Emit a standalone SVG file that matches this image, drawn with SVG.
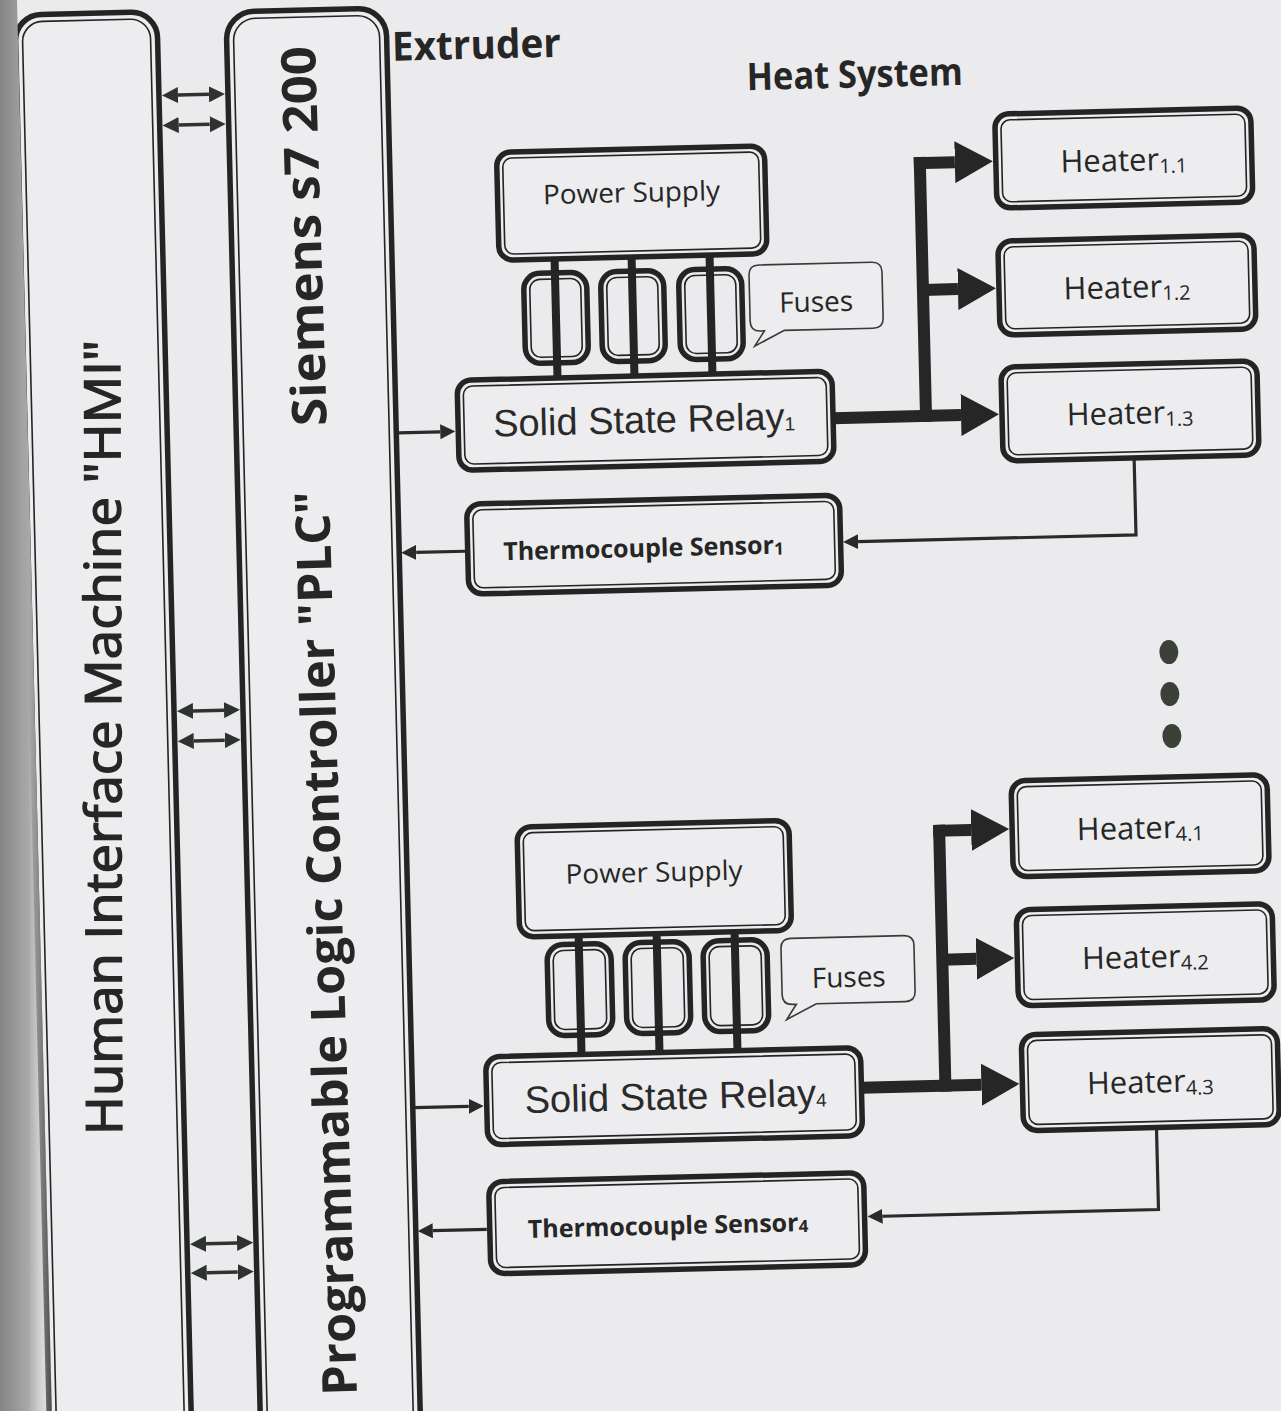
<svg xmlns="http://www.w3.org/2000/svg" width="1281" height="1411" viewBox="0 0 1281 1411">
<defs>
<style>
.ob{fill:#edecee;stroke:#242424;stroke-width:5.5}
.ib{fill:none;stroke:#242424;stroke-width:1.6}
.thin{stroke:#2a2a2a;stroke-width:3.2;fill:none}
.bold{stroke:#262626;stroke-width:12;fill:none}
.wire{stroke:#242424;stroke-width:8}
.dbl{stroke:#2e3330;stroke-width:3.5;fill:none}
.call{fill:#edecee;stroke:#3a3a3a;stroke-width:1.6}
.t{font-family:"Open Sans","Liberation Sans",sans-serif;fill:#262626}
.b{font-weight:700}
.a{font-family:"Liberation Sans",Arial,sans-serif;fill:#2a2a2a}
.dot{fill:#3b4039}
</style>
<marker id="mThin" markerUnits="userSpaceOnUse" markerWidth="15" markerHeight="15" refX="0" refY="7.5" orient="auto"><path d="M0,0 L15,7.5 L0,15 Z" fill="#2a2a2a"/></marker>
<marker id="mDbl" markerUnits="userSpaceOnUse" markerWidth="16" markerHeight="16" refX="0" refY="8" orient="auto-start-reverse"><path d="M0,0 L16,8 L0,16 Z" fill="#2e3330"/></marker>
<marker id="mBig" markerUnits="userSpaceOnUse" markerWidth="38" markerHeight="42" refX="0" refY="21" orient="auto"><path d="M0,0 L38,21 L0,42 Z" fill="#262626"/></marker>
<linearGradient id="shadow" x1="0" y1="0" x2="1" y2="0">
<stop offset="0" stop-color="#858585"/>
<stop offset="0.55" stop-color="#a9a9a9"/>
<stop offset="1" stop-color="#d9d9d9" stop-opacity="0.2"/>
</linearGradient>
</defs>
<rect width="1281" height="1411" fill="#ebeaec"/>
<g transform="rotate(-1.4 640 705)">
<g id="hmi">
<rect class="ob" x="32" y="0" width="142" height="1480" rx="26"/>
<rect class="ib" x="39" y="7" width="128" height="1466" rx="20"/>
</g>
<g id="plc">
<rect class="ob" x="243" y="2" width="160" height="1480" rx="28"/>
<rect class="ib" x="250" y="9" width="146" height="1466" rx="22"/>
</g>
<text id="extruder" class="t b" x="408" y="55" font-size="40" textLength="169" lengthAdjust="spacingAndGlyphs">Extruder</text>
<text id="heat-system" class="t b" x="762" y="93" font-size="38" textLength="216" lengthAdjust="spacingAndGlyphs">Heat System</text>

<g id="connectors">
<line class="dbl" x1="193" y1="84" x2="224" y2="84" marker-start="url(#mDbl)" marker-end="url(#mDbl)"/>
<line class="dbl" x1="193" y1="114" x2="224" y2="114" marker-start="url(#mDbl)" marker-end="url(#mDbl)"/>
<line class="dbl" x1="193" y1="700" x2="224" y2="700" marker-start="url(#mDbl)" marker-end="url(#mDbl)"/>
<line class="dbl" x1="193" y1="730" x2="224" y2="730" marker-start="url(#mDbl)" marker-end="url(#mDbl)"/>
<line class="dbl" x1="193" y1="1233" x2="224" y2="1233" marker-start="url(#mDbl)" marker-end="url(#mDbl)"/>
<line class="dbl" x1="193" y1="1262" x2="224" y2="1262" marker-start="url(#mDbl)" marker-end="url(#mDbl)"/>

<path class="thin" d="M405,427 H447" marker-end="url(#mThin)"/>
<path class="thin" d="M469,547 H420" marker-end="url(#mThin)"/>
<path class="thin" d="M1140,470 V547 H862" marker-end="url(#mThin)"/>
<path class="thin" d="M405,1102 H459" marker-end="url(#mThin)"/>
<path class="thin" d="M474,1225.5 H420" marker-end="url(#mThin)"/>
<path class="thin" d="M1146,1140 V1222 H870" marker-end="url(#mThin)"/>

<path class="bold" d="M933,164 V429"/>
<path class="bold" d="M840,423 H968" marker-end="url(#mBig)"/>
<path class="bold" d="M927,170 H968" marker-end="url(#mBig)"/>
<path class="bold" d="M933,297 H968" marker-end="url(#mBig)"/>

<path class="bold" d="M936,832 V1099"/>
<path class="bold" d="M852,1093 H972" marker-end="url(#mBig)"/>
<path class="bold" d="M930,838 H968" marker-end="url(#mBig)"/>
<path class="bold" d="M936,967 H970" marker-end="url(#mBig)"/>

<line class="wire" x1="565.5" y1="257" x2="565.5" y2="378"/>
<line class="wire" x1="642.5" y1="257" x2="642.5" y2="378"/>
<line class="wire" x1="720.5" y1="257" x2="720.5" y2="378"/>
<line class="wire" x1="573" y1="934" x2="573" y2="1055"/>
<line class="wire" x1="651" y1="934" x2="651" y2="1055"/>
<line class="wire" x1="729" y1="934" x2="729" y2="1055"/>
</g>

<g id="power-supply-1">
<rect class="ob" x="510" y="149" width="268" height="108" rx="14"/>
<rect class="ib" x="516" y="155" width="256" height="96" rx="9"/>
<text class="t" x="644" y="202" font-size="27" text-anchor="middle" textLength="177" lengthAdjust="spacingAndGlyphs">Power Supply</text>
</g>
<g id="fuses-1">
<rect class="ob" x="534" y="271" width="63" height="90" rx="16" fill-opacity="0"/>
<rect class="ib" x="540" y="277" width="51" height="78" rx="10"/>
<rect class="ob" x="611" y="271" width="63" height="90" rx="16" fill-opacity="0"/>
<rect class="ib" x="617" y="277" width="51" height="78" rx="10"/>
<rect class="ob" x="689" y="271" width="63" height="90" rx="16" fill-opacity="0"/>
<rect class="ib" x="695" y="277" width="51" height="78" rx="10"/>
</g>
<g id="fuses-label-1">
<path class="call" d="M769.5,268 H882.5 Q892.5,268 892.5,278 V324 Q892.5,334 882.5,334 H793.5 L763.5,349 L773.5,334 H769.5 Q759.5,334 759.5,324 V278 Q759.5,268 769.5,268 Z"/>
<text class="t" x="826" y="316" font-size="28" text-anchor="middle">Fuses</text>
</g>
<g id="ssr-1">
<rect class="ob" x="465" y="376" width="375" height="90" rx="14"/>
<rect class="ib" x="471" y="382" width="363" height="78" rx="9"/>
<text class="a" x="500" y="433" font-size="38">Solid State Relay<tspan font-size="19" dy="1">1</tspan></text>
</g>
<g id="thermocouple-1">
<rect class="ob" x="471.5" y="500" width="373" height="90" rx="14"/>
<rect class="ib" x="477.5" y="506" width="361" height="78" rx="9"/>
<text class="t b" x="507" y="557" font-size="25">Thermocouple Sensor<tspan font-size="17" dy="1">1</tspan></text>
</g>
<g id="heater-1-1">
<rect class="ob" x="1009" y="123" width="256" height="94" rx="14"/>
<rect class="ib" x="1015" y="129" width="244" height="82" rx="9"/>
<text class="t" x="1137" y="183" font-size="31" text-anchor="middle">Heater<tspan font-size="20" dy="3">1.1</tspan></text>
</g>
<g id="heater-1-2">
<rect class="ob" x="1009" y="250" width="256" height="94" rx="14"/>
<rect class="ib" x="1015" y="256" width="244" height="82" rx="9"/>
<text class="t" x="1137" y="310" font-size="31" text-anchor="middle">Heater<tspan font-size="20" dy="3">1.2</tspan></text>
</g>
<g id="heater-1-3">
<rect class="ob" x="1009" y="376" width="256" height="94" rx="14"/>
<rect class="ib" x="1015" y="382" width="244" height="82" rx="9"/>
<text class="t" x="1137" y="436" font-size="31" text-anchor="middle">Heater<tspan font-size="20" dy="3">1.3</tspan></text>
</g>
<g id="ellipsis">
<ellipse class="dot" cx="1170" cy="665" rx="9.5" ry="12"/>
<ellipse class="dot" cx="1170" cy="707" rx="9.5" ry="12"/>
<ellipse class="dot" cx="1171" cy="749" rx="9.5" ry="12"/>
</g>
<g id="power-supply-4">
<rect class="ob" x="514" y="824" width="272" height="110" rx="14"/>
<rect class="ib" x="520" y="830" width="260" height="98" rx="9"/>
<text class="t" x="650" y="882" font-size="27" text-anchor="middle" textLength="177" lengthAdjust="spacingAndGlyphs">Power Supply</text>
</g>
<g id="fuses-4">
<rect class="ob" x="541" y="942.5" width="64" height="91" rx="16" fill-opacity="0"/>
<rect class="ib" x="547" y="948.5" width="52" height="79" rx="10"/>
<rect class="ob" x="619" y="942.5" width="64" height="91" rx="16" fill-opacity="0"/>
<rect class="ib" x="625" y="948.5" width="52" height="79" rx="10"/>
<rect class="ob" x="697" y="942.5" width="64" height="91" rx="16" fill-opacity="0"/>
<rect class="ib" x="703" y="948.5" width="52" height="79" rx="10"/>
</g>
<g id="fuses-label-4">
<path class="call" d="M785,942 H898 Q908,942 908,952 V998 Q908,1008 898,1008 H809 L779,1023 L789,1008 H785 Q775,1008 775,998 V952 Q775,942 785,942 Z"/>
<text class="t" x="842" y="992" font-size="28" text-anchor="middle">Fuses</text>
</g>
<g id="ssr-4">
<rect class="ob" x="477" y="1053" width="375" height="88" rx="14"/>
<rect class="ib" x="483" y="1059" width="363" height="76" rx="9"/>
<text class="a" x="515" y="1110" font-size="38">Solid State Relay<tspan font-size="19" dy="1">4</tspan></text>
</g>
<g id="thermocouple-4">
<rect class="ob" x="477" y="1178" width="375" height="92" rx="14"/>
<rect class="ib" x="483" y="1184" width="363" height="80" rx="9"/>
<text class="t b" x="515" y="1235" font-size="25">Thermocouple Sensor<tspan font-size="17" dy="1">4</tspan></text>
</g>
<g id="heater-4-1">
<rect class="ob" x="1009" y="790" width="256" height="96" rx="14"/>
<rect class="ib" x="1015" y="796" width="244" height="84" rx="9"/>
<text class="t" x="1137" y="851" font-size="31" text-anchor="middle">Heater<tspan font-size="20" dy="3">4.1</tspan></text>
</g>
<g id="heater-4-2">
<rect class="ob" x="1011" y="919" width="256" height="96" rx="14"/>
<rect class="ib" x="1017" y="925" width="244" height="84" rx="9"/>
<text class="t" x="1139" y="980" font-size="31" text-anchor="middle">Heater<tspan font-size="20" dy="3">4.2</tspan></text>
</g>
<g id="heater-4-3">
<rect class="ob" x="1013" y="1044" width="256" height="96" rx="14"/>
<rect class="ib" x="1019" y="1050" width="244" height="84" rx="9"/>
<text class="t" x="1141" y="1105" font-size="31" text-anchor="middle">Heater<tspan font-size="20" dy="3">4.3</tspan></text>
</g>
</g>
<g id="hmi-label">
<text class="t" transform="translate(122,1135) rotate(-90.15)" font-size="50" stroke="#262626" stroke-width="1.4" textLength="795" lengthAdjust="spacingAndGlyphs">Human Interface Machine "HMI"</text>
</g>
<g id="plc-label" transform="translate(357,1395) rotate(-91.78)">
<text class="t b" x="0" y="0" font-size="48" textLength="905" lengthAdjust="spacingAndGlyphs">Programmable Logic Controller "PLC"</text>
<text class="t b" x="970" y="0" font-size="48" textLength="380" lengthAdjust="spacingAndGlyphs">Siemens s7 200</text>
</g>
<polygon points="0,0 17,0 52,1411 0,1411" fill="url(#shadow)"/>
</svg>
